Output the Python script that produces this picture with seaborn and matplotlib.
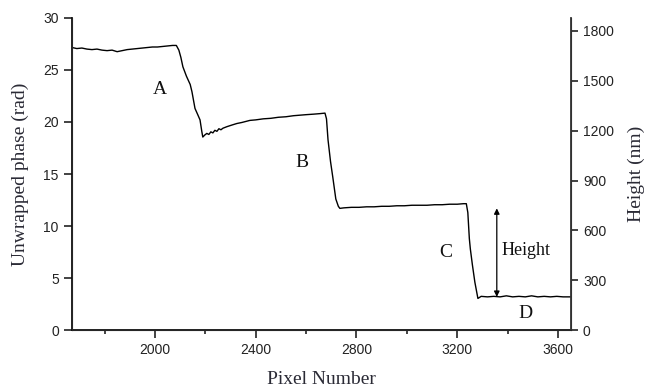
import numpy as np
import pandas as pd
import matplotlib
matplotlib.use('Agg')
import matplotlib.pyplot as plt
from matplotlib.ticker import MultipleLocator
import seaborn as sns

# profile (pixel number, unwrapped phase in rad)
pixel = [1671, 1690, 1710, 1730, 1750, 1770, 1790, 1810, 1830, 1850, 1870, 1890,
         1910, 1930, 1950, 1970, 1990, 2010, 2030, 2050, 2070, 2085,
         2095, 2103, 2111, 2125, 2140, 2147, 2159, 2170, 2179, 2186, 2190,
         2198, 2206, 2214, 2222, 2230, 2238, 2246, 2254, 2262, 2270, 2286,
         2305, 2325, 2345, 2377, 2400, 2430, 2460, 2490, 2520, 2550, 2575,
         2600, 2630, 2655, 2675,
         2681, 2687, 2697, 2706, 2718, 2728, 2734,
         2750, 2780, 2810, 2840, 2870, 2900, 2930, 2960, 2990, 3020, 3050,
         3080, 3110, 3140, 3170, 3200, 3225, 3236,
         3242, 3248, 3252, 3260, 3270, 3282,
         3295, 3320, 3345, 3370, 3395, 3420, 3445, 3470, 3495, 3520, 3545,
         3570, 3595, 3620, 3650]
phase = [27.15, 27.05, 27.1, 27.0, 26.95, 27.0, 26.9, 26.85, 26.9, 26.75, 26.85, 26.95,
         27.0, 27.05, 27.1, 27.15, 27.2, 27.2, 27.25, 27.3, 27.35, 27.35,
         26.9, 26.2, 25.3, 24.4, 23.6, 22.9, 21.3, 20.7, 20.2, 19.1, 18.55,
         18.75, 18.9, 18.8, 19.05, 18.95, 19.2, 19.1, 19.35, 19.25, 19.4, 19.55,
         19.7, 19.85, 19.95, 20.15, 20.2, 20.3, 20.35, 20.45, 20.5, 20.6, 20.65,
         20.7, 20.75, 20.8, 20.85,
         20.3, 18.3, 16.2, 14.7, 12.6, 11.9, 11.7,
         11.75, 11.8, 11.8, 11.85, 11.85, 11.9, 11.9, 11.95, 11.95, 12.0, 12.0,
         12.0, 12.05, 12.05, 12.1, 12.1, 12.15, 12.15,
         11.3, 8.8, 7.8, 6.3, 4.6, 3.05,
         3.25, 3.2, 3.25, 3.2, 3.3, 3.2, 3.25, 3.2, 3.3, 3.2, 3.25,
         3.2, 3.25, 3.2, 3.2]

region_labels = ['A', 'B', 'C', 'D']
region_x = [2020, 2583, 3155, 3472]
region_y = [23.1, 16.1, 7.5, 1.6]

left_ticks = [0, 5, 10, 15, 20, 25, 30]
right_ticks = [0, 300, 600, 900, 1200, 1500, 1800]
x_ticks = [2000, 2400, 2800, 3200, 3600]

df = pd.DataFrame({'pixel': pixel, 'phase': phase})

sns.set_style('ticks')
plt.rcParams['font.family'] = ['Liberation Sans', 'DejaVu Sans']

fig = plt.figure(figsize=(6.49, 3.88), dpi=100)
ax = fig.add_axes([0.111, 0.149, 0.769, 0.805])

sns.lineplot(data=df, x='pixel', y='phase', ax=ax, color='black', linewidth=1.0)

ax.set_xlim(1671, 3652)
ax.set_ylim(0, 30)
ax.set_xticks(x_ticks)
ax.xaxis.set_minor_locator(MultipleLocator(200))
ax.set_yticks(left_ticks)
ax.tick_params(axis='both', which='major', labelsize=10, length=6, width=1.2,
               colors='#222222', direction='out')
ax.tick_params(axis='x', which='minor', length=3, width=1.2, color='#222222')

serif = ['Liberation Serif', 'DejaVu Serif']
ax.set_xlabel('Pixel Number', family=serif, fontsize=14, color='#2a2a35', labelpad=10)
ax.set_ylabel('Unwrapped phase (rad)', family=serif, fontsize=14, color='#2a2a35', labelpad=10)

ax.spines['top'].set_visible(False)
for s in ['left', 'bottom']:
    ax.spines[s].set_linewidth(1.3)
    ax.spines[s].set_color('#111111')

ax2 = ax.twinx()
ax2.set_ylim(0, 1878)
ax2.set_yticks(right_ticks)
ax2.tick_params(axis='y', labelsize=10, length=5, width=1.2, colors='#222222')
ax2.set_ylabel('Height (nm)', family=serif, fontsize=14, color='#2a2a35', labelpad=10)
ax2.spines['top'].set_visible(False)
ax2.spines['right'].set_linewidth(1.3)
ax2.spines['right'].set_color('#333333')
ax2.grid(False)

for lab, lx, ly in zip(region_labels, region_x, region_y):
    ax.text(lx, ly, lab, family=serif, fontsize=14, ha='center', va='center', color='#111111')

ax.annotate('', xy=(3357, 11.7), xytext=(3357, 3.2),
            arrowprops=dict(arrowstyle='<|-|>', color='black', lw=0.9,
                            mutation_scale=8, shrinkA=0, shrinkB=0))
ax.text(3377, 7.7, 'Height', family=serif, fontsize=13, ha='left', va='center', color='#111111')

fig.savefig('out.png', dpi=100)
